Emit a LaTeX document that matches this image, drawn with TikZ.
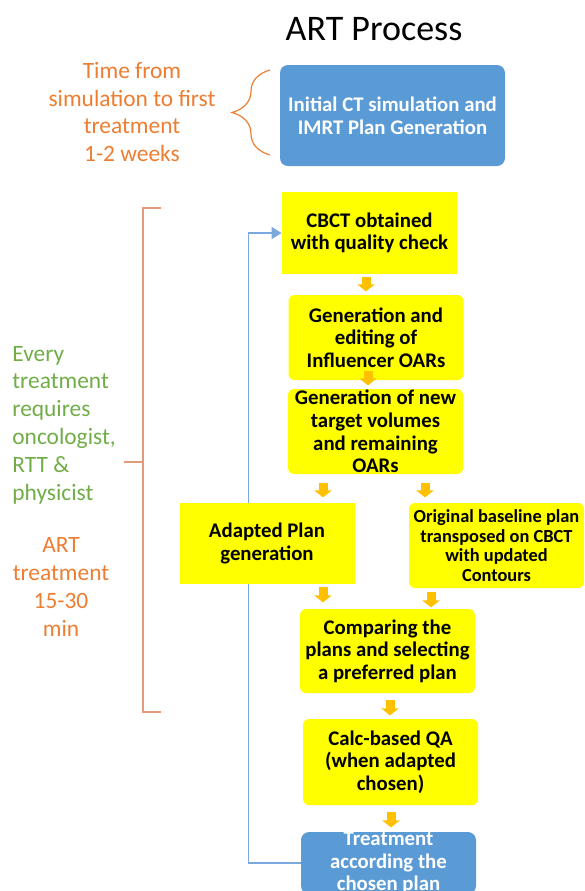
\documentclass[tikz,border=0pt]{standalone}
\usepackage{fontspec}
\setmainfont{Carlito}
\usepackage{tikz}
\usetikzlibrary{arrows.meta, calc, decorations.pathreplacing, backgrounds}
\definecolor{artblue}{HTML}{5B9BD5}
\definecolor{artline}{HTML}{7BA9DE}
\definecolor{artyellow}{HTML}{FFFF00}
\definecolor{artamber}{HTML}{FFC000}
\definecolor{artorange}{HTML}{ED7D31}
\definecolor{artgreen}{HTML}{70AD47}
\definecolor{artbracket}{HTML}{E39A78}

\tikzset{
  boxtext/.style={font=\bfseries\fontsize{10.4}{11.3}\selectfont, align=center},
  sharpbox/.style={boxtext, fill=artyellow, inner sep=0pt,
                   minimum width=87.5pt},
  roundbox/.style={sharpbox, rounded corners=3pt},
  bluebox/.style={boxtext, fill=artblue, text=white, rounded corners=4pt,
                  inner sep=0pt},
  flowarrow/.style={artamber, line width=4.5pt,
                    -{Triangle[length=3.5pt 0, width=8.5pt 0]}},
  loopline/.style={artline, line width=0.8pt,
                   -{Triangle[length=5pt 0, width=6pt 0]}},
  sidelabel/.style={font=\fontsize{11.7}{13.9}\selectfont, inner sep=0pt}
}

\begin{document}
\begin{tikzpicture}[x=0.5pt, y=-0.5pt]
  \clip (0,0) rectangle (585,891);

  % title and planning stage
  \node[font=\fontsize{18}{20}\selectfont] (title) at (374,29) {ART Process};
  \node[bluebox, minimum width=112.5pt, minimum height=50.5pt] (initct)
    at (392.5,115.5) {Initial CT simulation and\\IMRT Plan Generation};
  \node[sidelabel, text=artorange, align=center] (timelbl) at (132,112)
    {Time from\\simulation to first\\treatment\\1-2 weeks};
  \draw[artorange, line width=0.6pt,
        decorate, decoration={brace, amplitude=19pt}]
    (270,155) -- (270,70);

  % daily adaptive workflow
  \node[sharpbox, minimum height=41pt] (cbct) at (369.5,233)
    {CBCT obtained\\with quality check};
  \node[roundbox, minimum height=42.5pt] (gen1) at (376,337.5)
    {Generation and\\editing of\\Influencer OARs};
  \node[roundbox, minimum height=42.5pt] (gen2) at (375.5,431.5)
    {Generation of new\\target volumes\\and remaining\\OARs};
  \node[sharpbox, minimum height=40.5pt] (adapt) at (267,543.5)
    {Adapted Plan\\generation};
  \node[roundbox, minimum height=42.5pt,
        font=\bfseries\fontsize{9.2}{9.8}\selectfont] (orig) at (496.5,545.5)
    {Original baseline plan\\transposed on CBCT\\with updated\\Contours};
  \node[roundbox, minimum height=42pt] (compare) at (387.5,651)
    {Comparing the\\plans and selecting\\a preferred plan};
  \node[roundbox, minimum height=43pt] (calcqa) at (390.5,762)
    {Calc-based QA\\(when adapted\\chosen)};
  \node[bluebox, minimum width=87.5pt, minimum height=30pt] (treat)
    at (388.5,863) {Treatment\\according the\\chosen plan};

  % small block arrows
  \draw[flowarrow] ($(cbct.south)+(-3.5,3)$) -- ++(0,14);
  \draw[flowarrow] ($(gen1.south)+(-8,-9)$) -- ++(0,14);
  \draw[flowarrow] ($(gen2.south)+(-52.5,9)$) -- ++(0,14);
  \draw[flowarrow] ($(gen2.south)+(49.5,9)$) -- ++(0,14);
  \draw[flowarrow] ($(adapt.south)+(56,3)$) -- ++(0,15);
  \draw[flowarrow] ($(orig.south)+(-65.5,4)$) -- ++(0,15);
  \draw[flowarrow] ($(compare.south)+(2.5,7)$) -- ++(0,15);
  \draw[flowarrow] ($(calcqa.south)+(0.5,7)$) -- ++(0,15);

  % loop back to next fraction, behind the boxes
  \begin{scope}[on background layer]
    \draw[loopline] (treat.west) -- ++(-52,0) |- (cbct.west);
  \end{scope}

  % team and duration
  \draw[artbracket, line width=0.6pt]
    (161,208) -- (143,208) -- (143,712) -- (161,712);
  \draw[artbracket, line width=0.6pt] (143,462) -- (124,462);
  \node[sidelabel, text=artgreen, align=left, anchor=west] (teamlbl)
    at (12,425) {Every\\treatment\\requires\\oncologist,\\RTT \&\\physicist};
  \node[sidelabel, text=artorange, align=center] (durlbl) at (61,587)
    {ART\\treatment\\15-30\\min};
\end{tikzpicture}
\end{document}
